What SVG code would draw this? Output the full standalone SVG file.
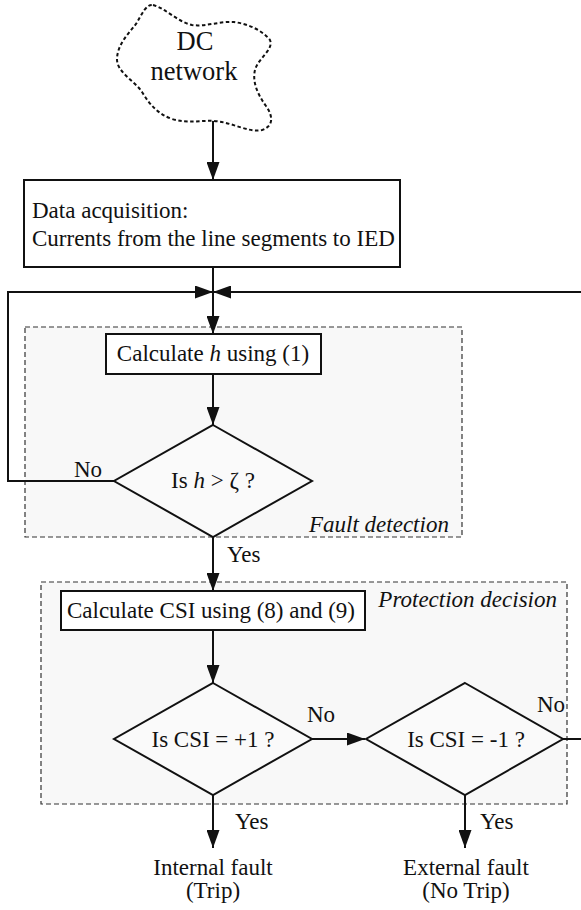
<svg xmlns="http://www.w3.org/2000/svg" width="581" height="910" viewBox="0 0 581 910" font-family="'Liberation Serif', 'DejaVu Serif', serif">
<style>
text{font-family:'Liberation Serif','DejaVu Serif',serif;font-size:23px;fill:#111}
.it{font-style:italic}
.big{font-size:26.5px}
.box{fill:#fff;stroke:#111;stroke-width:2}
.dia{fill:#fafafa;stroke:#111;stroke-width:2}
.grp{fill:#f8f8f8;stroke:#333;stroke-width:1.2;stroke-dasharray:5 3}
.ln{fill:none;stroke:#111;stroke-width:2}
.arr{fill:none;stroke:#111;stroke-width:2;marker-end:url(#ah)}
</style>
<defs>
<marker id="ah" markerUnits="userSpaceOnUse" markerWidth="18" markerHeight="13" refX="18" refY="6.5" orient="auto">
<path d="M0,0 L18,6.5 L0,13 z" fill="#111"/>
</marker>
</defs>
<rect width="581" height="910" fill="#fff"/>
<g id="group-fault-detection">
<rect class="grp" x="25" y="327" width="437" height="210"/>
<text class="it" x="309" y="532">Fault detection</text>
</g>
<g id="group-protection-decision">
<rect class="grp" x="41" y="582" width="526" height="222"/>
<text class="it" x="557" y="607" text-anchor="end">Protection decision</text>
</g>
<g id="connectors">
<path class="arr" d="M213,120 L213,180"/>
<path class="ln" d="M213,267 L213,292"/>
<path class="arr" d="M213,292 L213,334"/>
<path class="arr" d="M114,481 L8,481 L8,292 L213,292"/>
<path class="arr" d="M563,739 L590,739 L590,292 L213,292"/>
<path class="arr" d="M213,374 L213,425"/>
<path class="arr" d="M213,537 L213,591"/>
<path class="arr" d="M213,630 L213,683"/>
<path class="arr" d="M312,739 L365,739"/>
<path class="arr" d="M213,795 L213,848"/>
<path class="arr" d="M465,795 L465,848"/>
<text x="74" y="477">No</text>
<text x="227" y="562">Yes</text>
<text x="307" y="722">No</text>
<text x="537" y="712">No</text>
<text x="235" y="829">Yes</text>
<text x="480" y="829">Yes</text>
</g>
<g id="dc-network">
<path d="M153,5 C165,8 178,22 192,25 C205,27 220,21 234,22 C248,24 262,30 270,40 C274,50 258,58 255,70 C252,82 258,95 266,106 C273,116 274,126 262,130 C248,133 232,122 214,121 C200,120 188,124 172,119 C158,114 150,105 142,92 C134,80 116,72 117,58 C118,44 128,34 136,24 C142,14 146,4 153,5 Z" fill="#fff" stroke="#111" stroke-width="2" stroke-dasharray="3.5 2.5"/>
<text class="big" x="195" y="50" text-anchor="middle">DC</text>
<text class="big" x="194" y="80" text-anchor="middle">network</text>
</g>
<g id="data-acquisition">
<rect class="box" x="24" y="180" width="376" height="87"/>
<text x="32" y="218">Data acquisition:</text>
<text x="32" y="246">Currents from the line segments to IED</text>
</g>
<g id="calculate-h">
<rect class="box" x="106" y="334" width="215" height="40"/>
<text x="213" y="361" text-anchor="middle">Calculate <tspan class="it">h</tspan> using (1)</text>
</g>
<g id="is-h-gt-zeta">
<polygon class="dia" points="213,425 312,481 213,537 114,481"/>
<text x="213" y="488" text-anchor="middle">Is <tspan class="it">h</tspan> &gt; ζ  ?</text>
</g>
<g id="calculate-csi">
<rect class="box" x="61" y="591" width="304" height="39"/>
<text x="211" y="618" text-anchor="middle">Calculate CSI using (8) and (9)</text>
</g>
<g id="is-csi-plus1">
<polygon class="dia" points="213,683 312,739 213,795 114,739"/>
<text x="213" y="747" text-anchor="middle">Is CSI = +1 ?</text>
</g>
<g id="is-csi-minus1">
<polygon class="dia" points="465,683 563,739 465,795 366,739"/>
<text x="466" y="747" text-anchor="middle">Is CSI = -1 ?</text>
</g>
<g id="internal-fault">
<text x="213" y="875" text-anchor="middle">Internal fault</text>
<text x="213" y="898" text-anchor="middle">(Trip)</text>
</g>
<g id="external-fault">
<text x="466" y="875" text-anchor="middle">External fault</text>
<text x="466" y="898" text-anchor="middle">(No Trip)</text>
</g>
</svg>
